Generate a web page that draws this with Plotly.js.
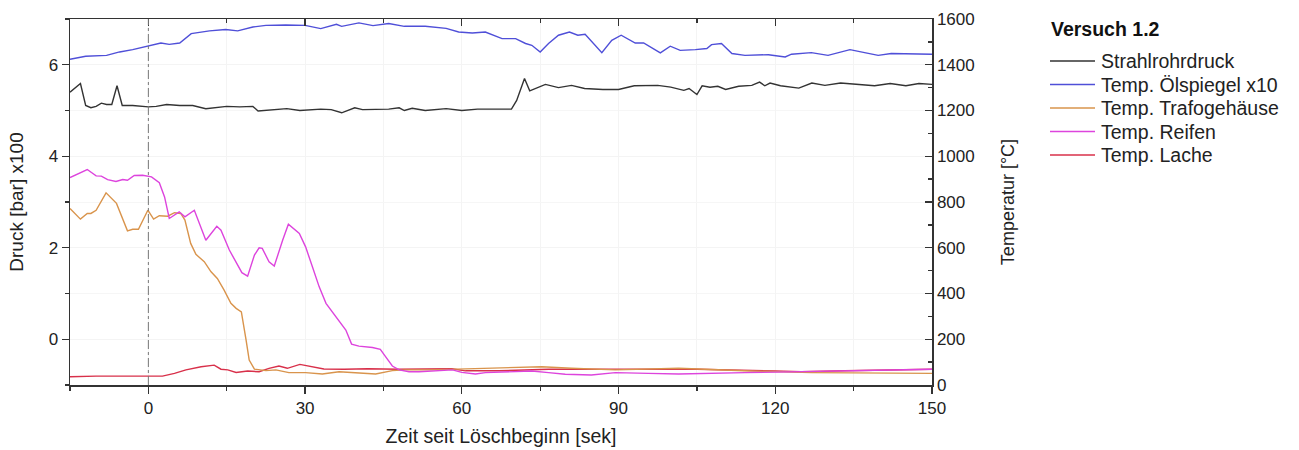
<!DOCTYPE html>
<html>
<head>
<meta charset="utf-8">
<script src="https://cdn.plot.ly/plotly-3.0.1.min.js"></script>
<style>html,body{margin:0;padding:0;background:#fff;}#chart{width:1299px;height:450px;}</style>
</head>
<body>
<div id="chart"></div>
<script>
// Strahlrohrdruck (left axis, bar x100)
const tDruck = [-15,-13,-12,-11,-10,-9,-8,-7,-6,-5,-3,0,1.5,3.5,6,8.5,11,13,15,17.5,20,21,24,26.5,29,31,33,35,37,39.5,41,46,48,49,50.5,53,57,60,63,66.5,69.5,70.5,72,73,76,78.5,81,83.5,87,90,93,97.5,100,102.5,103.5,105,106,107.5,109,110.5,113,115.5,117,118,119,121,123,124.5,127,129.5,132.5,136,139,142,145,147.5,150];
const vDruck = [5.40,5.59,5.11,5.06,5.09,5.16,5.13,5.13,5.54,5.11,5.11,5.08,5.09,5.13,5.11,5.11,5.04,5.06,5.09,5.08,5.09,4.99,5.02,5.04,5.00,5.02,5.03,5.02,4.95,5.06,5.02,5.03,5.06,5.00,5.05,5.00,5.04,5.00,5.03,5.03,5.03,5.22,5.70,5.43,5.57,5.50,5.55,5.48,5.46,5.46,5.54,5.55,5.51,5.44,5.48,5.35,5.54,5.51,5.53,5.46,5.53,5.55,5.62,5.54,5.60,5.54,5.51,5.49,5.60,5.55,5.60,5.57,5.54,5.59,5.54,5.59,5.57];

// Temp. Ölspiegel x10 (right axis)
const tOel = [-15,-12,-8,-5.5,-3,0,2.4,4,6,8.2,11.7,14.8,17.1,20,22.5,26.3,29,30,33,36,37,40.3,43,46,49,53,57,59.4,62,64.5,67.7,70.3,72.2,73.4,75,76.6,78.5,80.6,82.2,83.6,86.8,88.7,90.5,93.2,94.8,98,99.9,101.8,104.7,106.9,107.8,109.7,111.7,114.2,118.7,121.9,123.1,126.9,130.1,134.3,137.1,139.7,142.2,150];
const vOel = [1424,1437,1441,1456,1466,1481,1495,1489,1495,1536,1548,1554,1548,1565,1572,1574,1574,1572,1558,1577,1568,1583,1571,1580,1568,1568,1559,1543,1539,1543,1514,1514,1493,1485,1456,1493,1529,1543,1529,1533,1453,1507,1529,1495,1495,1452,1481,1463,1466,1471,1488,1493,1449,1441,1444,1434,1446,1453,1441,1466,1453,1441,1449,1446];

// Temp. Trafogehäuse (right axis)
const tTrafo = [-15,-13,-11.7,-11,-10,-8.1,-6.1,-4,-3,-1.9,-0.1,1,2.1,3.7,5,6.2,7,8.1,9.1,10.7,12,13.2,14.5,15.8,16.8,17.8,18.7,19.3,20.3,22.5,24.4,26.9,30.1,33.3,36.5,40.3,43.5,46.7,49.2,54,59.4,63.8,69,75.3,81,89.4,101.5,114,127,150];
const vTrafo = [772,725,750,750,764,840,794,674,681,681,764,725,740,738,753,750,721,619,571,539,495,466,415,357,335,320,197,109,69,63,66,54,54,48,58,54,48,63,66,66,69,73,77,80,73,66,73,62,54,51];

// Temp. Reifen (right axis)
const tReifen = [-15,-11.7,-10,-9,-7.8,-6.2,-4.9,-4,-2.7,-1.1,0.6,2.1,3.1,4,5.9,7,8.8,11,13.1,13.9,15.5,17.9,19,20.3,21.2,21.8,23.1,24.1,25.7,26.8,28.9,30.1,31.4,32.7,34,35.8,37.8,38.9,40.3,42.9,44.4,45.4,46.7,48,49.9,51.8,58.2,60,62.6,64.5,69,73.4,76.6,79.8,84.8,89.4,95.7,101.5,114.2,125,133.3,150];
const vReifen = [907,942,914,913,898,890,898,895,916,917,910,884,822,728,757,735,764,633,694,677,590,491,476,568,600,597,539,520,633,703,663,604,517,429,357,299,240,179,170,164,156,124,83,66,58,58,66,55,48,54,57,61,54,47,44,54,51,48,54,58,62,69];

// Temp. Lache (right axis)
const tLache = [-15,-10,0,2.7,5,7.2,10.1,12.6,13.9,15.2,16.8,19,21.2,23.1,25,26.6,29,31.1,33.6,37.5,42,48,54.3,58.1,60.7,67,76.6,86,105,120,125,133.3,150];
const vLache = [36,39,39,39,51,66,80,87,69,66,55,61,58,73,83,73,90,80,70,69,71,69,71,71,62,62,69,69,69,61,58,62,69];

const legendTitle = 'Versuch 1.2';
const names = ['Strahlrohrdruck','Temp. Ölspiegel x10','Temp. Trafogehäuse','Temp. Reifen','Temp. Lache'];
const colors = ['#333333','#4f4fd8','#d9944c','#dd44dd','#d8304a'];

const FONT = 'Liberation Sans, Arial, sans-serif';

// plot area in pixels (for placing the hand-drawn legend in paper coords)
const W = 1299, H = 450, ML = 70, MR = 367, MT = 19, MB = 65;
const PW = W - ML - MR, PH = H - MT - MB;
const px = v => (v - ML) / PW;
const py = v => (H - MB - v) / PH;

function tr(x, y, i, yaxis) {
  return {x: x, y: y, name: names[i], type: 'scatter', mode: 'lines',
    yaxis: yaxis, showlegend: false, hoverinfo: 'skip',
    line: {color: colors[i], width: 1.4}};
}

const data = [
  tr(tLache, vLache, 4, 'y2'),
  tr(tTrafo, vTrafo, 2, 'y2'),
  tr(tReifen, vReifen, 3, 'y2'),
  tr(tOel, vOel, 1, 'y2'),
  tr(tDruck, vDruck, 0, 'y'),
  {x: [], y: [], xaxis: 'x2', yaxis: 'y', showlegend: false, hoverinfo: 'skip', type: 'scatter', mode: 'lines'}
];

const axCol = '#333333';
const shapes = [
  {type: 'line', xref: 'x', yref: 'paper', x0: 0, x1: 0, y0: 0, y1: 1,
   line: {color: '#777', width: 1, dash: 'dashdot'}}
];
const annotations = [
  {xref: 'paper', yref: 'paper', x: px(1049), y: py(29), xanchor: 'left', yanchor: 'middle',
   showarrow: false, text: '<b>' + legendTitle + '</b>',
   font: {family: FONT, size: 19.5, color: '#111'}}
];
const rowY = [61, 84.5, 108, 131.5, 155];
names.forEach((n, i) => {
  shapes.push({type: 'line', xref: 'paper', yref: 'paper',
    x0: px(1050), x1: px(1095), y0: py(rowY[i]), y1: py(rowY[i]),
    line: {color: colors[i], width: 1.4}});
  annotations.push({xref: 'paper', yref: 'paper', x: px(1099), y: py(rowY[i]),
    xanchor: 'left', yanchor: 'middle', showarrow: false, text: n,
    font: {family: FONT, size: 19.5, color: '#222'}});
});

const layout = {
  width: W, height: H,
  margin: {l: ML, r: MR, t: MT, b: MB},
  paper_bgcolor: '#ffffff', plot_bgcolor: '#ffffff',
  font: {family: FONT, size: 17, color: '#222'},
  showlegend: false,
  xaxis: {
    range: [-15, 150], dtick: 30, tick0: 0,
    ticks: 'outside', ticklen: 7, tickwidth: 1.3, tickcolor: axCol,
    showline: true, linecolor: axCol, linewidth: 1.5,
    showgrid: true, gridcolor: '#f4f4f4', gridwidth: 1,
    zeroline: false,
    minor: {dtick: 15, tick0: 0, ticks: 'outside', ticklen: 4, tickcolor: axCol, showgrid: true, gridcolor: '#f4f4f4'},
    tickfont: {family: FONT, size: 17, color: '#222'},
    title: {text: 'Zeit seit Löschbeginn [sek]', font: {family: FONT, size: 19.5, color: '#222'}, standoff: 12}
  },
  xaxis2: {
    overlaying: 'x', side: 'top', anchor: 'y', range: [-15, 150], dtick: 30, tick0: 0,
    ticks: 'inside', ticklen: 7, tickwidth: 1.3, tickcolor: axCol,
    showline: true, linecolor: axCol, linewidth: 1.5,
    showticklabels: false, showgrid: false, zeroline: false,
    minor: {dtick: 15, tick0: 0, ticks: 'inside', ticklen: 4, tickcolor: axCol}
  },
  yaxis: {
    range: [-1, 7], dtick: 2, tick0: 0,
    ticks: 'outside', ticklen: 7, tickwidth: 1.3, tickcolor: axCol,
    showline: true, linecolor: axCol, linewidth: 1.5,
    showgrid: true, gridcolor: '#f4f4f4', zeroline: false,
    minor: {dtick: 1, tick0: 0, ticks: 'outside', ticklen: 4, tickcolor: axCol, showgrid: true, gridcolor: '#f6f6f6'},
    tickfont: {family: FONT, size: 17, color: '#222'},
    title: {text: 'Druck [bar] x100', font: {family: FONT, size: 19, color: '#222'}, standoff: 20}
  },
  yaxis2: {
    overlaying: 'y', side: 'right', anchor: 'x',
    range: [0, 1600], dtick: 200, tick0: 0,
    ticks: 'inside', ticklen: 7, tickwidth: 1.3, tickcolor: axCol,
    showline: true, linecolor: axCol, linewidth: 1.5,
    showgrid: false, zeroline: false,
    minor: {dtick: 100, tick0: 0, ticks: 'inside', ticklen: 4, tickcolor: axCol},
    tickfont: {family: FONT, size: 17, color: '#222'},
    title: {text: 'Temperatur [°C]', font: {family: FONT, size: 18, color: '#222'}, standoff: 27}
  },
  shapes: shapes,
  annotations: annotations
};

Plotly.newPlot('chart', data, layout, {displayModeBar: false, staticPlot: true});
</script>
</body>
</html>
